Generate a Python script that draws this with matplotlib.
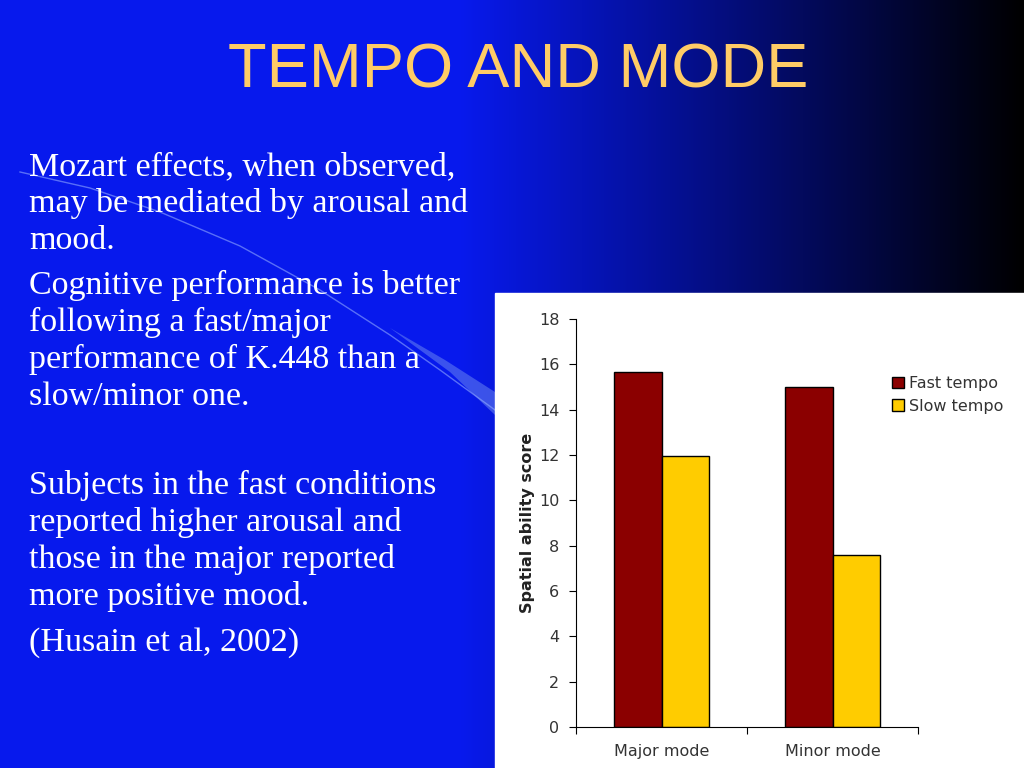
import matplotlib.pyplot as plt
import numpy as np
from matplotlib.patches import Rectangle, Polygon

# chart data
modes = ['Major mode', 'Minor mode']
fast_tempo = [15.65, 15.0]
slow_tempo = [11.95, 7.6]
yticks = list(range(0, 19, 2))

title = 'TEMPO AND MODE'
para1 = ['Mozart effects, when observed,', 'may be mediated by arousal and', 'mood.']
para2 = ['Cognitive performance is better', 'following a fast/major',
         'performance of K.448 than a', 'slow/minor one.']
para3 = ['Subjects in the fast conditions', 'reported higher arousal and',
         'those in the major reported', 'more positive mood.']
cite = '(Husain et al, 2002)'

W, H = 1024, 768
fig = plt.figure(figsize=(W / 100, H / 100), dpi=100)

# slide background: blue fading to black on the right
bg = fig.add_axes([0, 0, 1, 1])
t = np.linspace(0, 1, W)
f = np.clip((1 - t) / 0.55, 0, 1)
img = np.zeros((2, W, 3))
img[..., 0] = 0.03 * f
img[..., 1] = 0.1 * f
img[..., 2] = 0.93 * f
bg.imshow(img, aspect='auto', extent=[0, W, H, 0])
bg.set_xlim(0, W)
bg.set_ylim(H, 0)
bg.axis('off')

# decorative swoosh
sx = [20, 90, 160, 240, 320, 390, 440, 495]
sy = [172, 188, 212, 246, 290, 335, 370, 410]
bg.plot(sx, sy, color='#8fa8ff', lw=1, alpha=0.6)
bg.add_patch(Polygon([[390, 328], [445, 360], [495, 392], [495, 415], [450, 372]],
                     closed=True, color='#6f8cf0', alpha=0.5, lw=0))

bg.text(518, 87, title, color='#ffcc66', fontsize=45.5, family='Liberation Sans',
        ha='center', va='baseline')

serif = dict(color='white', fontsize=24.5, family='Liberation Serif', va='baseline')
y = 175
for line in para1:
    bg.text(29, y, line, **serif)
    y += 37
y = 294
for line in para2:
    bg.text(29, y, line, **serif)
    y += 37
y = 494
for line in para3:
    bg.text(29, y, line, **serif)
    y += 37
bg.text(29, 651, cite, **serif)

# white panel for the chart
fig.patches.append(Rectangle((495 / W, 0), 1 - 495 / W, 1 - 293 / H,
                             transform=fig.transFigure, color='white', zorder=1))

ax = fig.add_axes([576 / W, 1 - 727 / H, (918 - 576) / W, (727 - 319) / H])
ax.set_zorder(2)
ax.patch.set_alpha(0)
x = np.arange(len(modes))
w = 0.28
ax.bar(x - w / 2, fast_tempo, w, color='#8b0000', edgecolor='black', lw=1, label='Fast tempo')
ax.bar(x + w / 2, slow_tempo, w, color='#ffcc00', edgecolor='black', lw=1, label='Slow tempo')
ax.set_xlim(-0.5, 1.5)
ax.set_ylim(0, 18)
ax.set_yticks(yticks)
ax.set_xticks([-0.5, 0.5, 1.5])
ax.set_xticklabels([])
ax.set_xticks(x, minor=True)
ax.set_xticklabels(modes, minor=True, va='baseline')
ax.tick_params(axis='x', which='minor', length=0, pad=21)
ax.tick_params(axis='x', which='major', length=5, direction='out')
ax.tick_params(axis='y', length=5, direction='out', pad=7)
ax.tick_params(which='both', labelsize=11.5, labelcolor='#333333')
for s in ['top', 'right']:
    ax.spines[s].set_visible(False)
ax.set_ylabel('Spatial ability score', fontsize=11.5, fontweight='bold', color='#222222', labelpad=3)

leg = fig.legend(loc='upper left', bbox_to_anchor=(886 / W, 1 - 370 / H), frameon=False,
                 fontsize=11.5, handlelength=0.7, handleheight=0.7, handletextpad=0.35,
                 labelspacing=0.45, borderaxespad=0)
for txt in leg.get_texts():
    txt.set_color('#333333')

fig.savefig('out.png', dpi=100)
